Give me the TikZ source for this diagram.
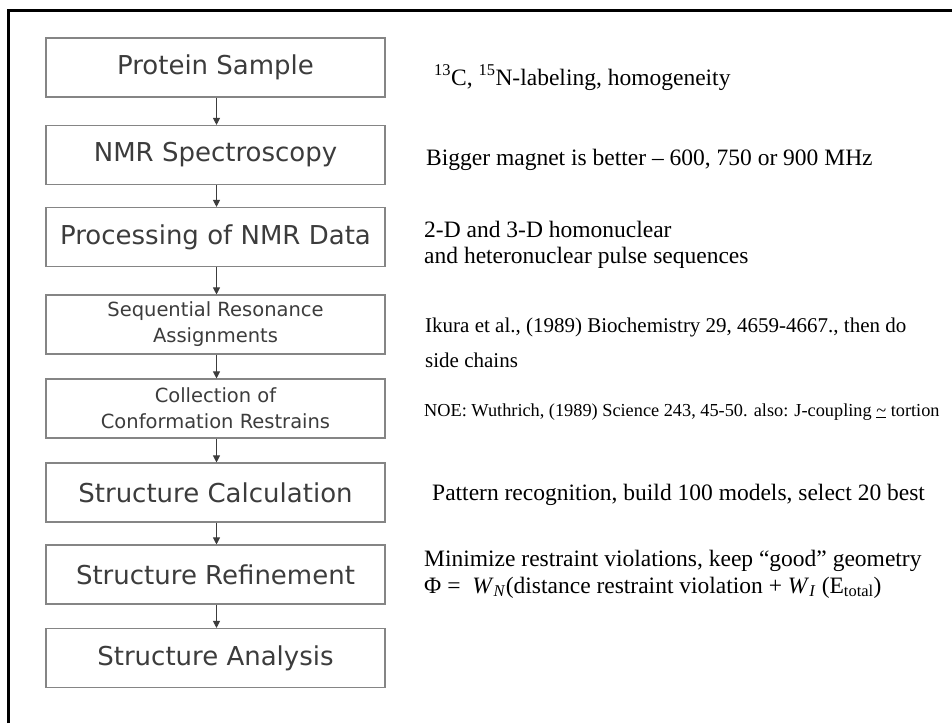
\documentclass[tikz,border=0pt]{standalone}
\usepackage{fontspec}
\setmainfont{Liberation Serif}
\newfontfamily\boxfont{DejaVu Sans}
\usetikzlibrary{arrows.meta}

\definecolor{boxline}{HTML}{858585}
\definecolor{boxtext}{HTML}{3C3C3C}

\tikzset{
  stage/.style={draw=boxline, line width=1.1pt, minimum width=339pt, minimum height=59pt,
    inner sep=0pt, text=boxtext, align=center, font=\boxfont\fontsize{26}{31}\selectfont},
  smallstage/.style={stage, font=\boxfont\fontsize{19.5}{26}\selectfont},
  flow/.style={draw=boxtext, line width=1pt, -{Triangle[length=7pt,width=7pt]}},
  note/.style={anchor=base west, inner sep=0pt, font=\fontsize{23.5}{27}\selectfont},
  smallnote/.style={note, font=\fontsize{21}{27}\selectfont},
  tinynote/.style={note, font=\fontsize{18.3}{22}\selectfont}
}

\begin{document}
\begin{tikzpicture}[x=1pt, y=-1pt]
\useasboundingbox (0,0) rectangle (952,723);

% frame (top and left edges)
\draw[line width=3pt] (8.5,723) -- (8.5,10.5) -- (952,10.5);

% workflow stages
\node[stage] (b1) at (215.5,67.5) {Protein Sample};
\node[stage] (b2) at (215.5,155) {NMR Spectroscopy};
\node[stage] (b3) at (215.5,237) {Processing of NMR Data};
\node[smallstage] (b4) at (215.5,324.5) {Sequential Resonance\\Assignments};
\node[smallstage] (b5) at (215.5,408.5) {Collection of\\Conformation Restrains};
\node[stage] (b6) at (215.5,492.5) {Structure Calculation};
\node[stage] (b7) at (215.5,574.5) {Structure Refinement};
\node[stage] (b8) at (215.5,658) {Structure Analysis};

\foreach \a/\b in {b1/b2,b2/b3,b3/b4,b4/b5,b5/b6,b6/b7,b7/b8}
  \draw[flow] ([xshift=1pt]\a.south) -- ([xshift=1pt]\b.north);

% notes beside each stage
\node[note] (t1) at (434,85) {\textsuperscript{13}C, \textsuperscript{15}N-labeling, homogeneity};
\node[note] (t2) at (426,165) {Bigger magnet is better -- 600, 750 or 900 MHz};
\node[note] (t3a) at (424,237) {2-D and 3-D homonuclear};
\node[note] (t3b) at (424,263) {and heteronuclear pulse sequences};
\node[smallnote] (t4a) at (425,332) {Ikura et al., (1989) Biochemistry 29, 4659-4667., then do};
\node[smallnote] (t4b) at (425,367) {side chains};
\node[tinynote] (t5) at (424,416) {NOE: Wuthrich, (1989) Science 243, 45-50. also: J-coupling \underline{\char"7E} tortion};
\node[note] (t6) at (432,500) {Pattern recognition, build 100 models, select 20 best};
\node[note] (t7a) at (424,566) {Minimize restraint violations, keep “good” geometry};
\node[note] (t7b) at (424,593) {Φ =\ \ \textit{W}\textsubscript{\textit{N}}(distance restraint violation + \textit{W}\textsubscript{\textit{I}} (E\textsubscript{total})};
\end{tikzpicture}
\end{document}
